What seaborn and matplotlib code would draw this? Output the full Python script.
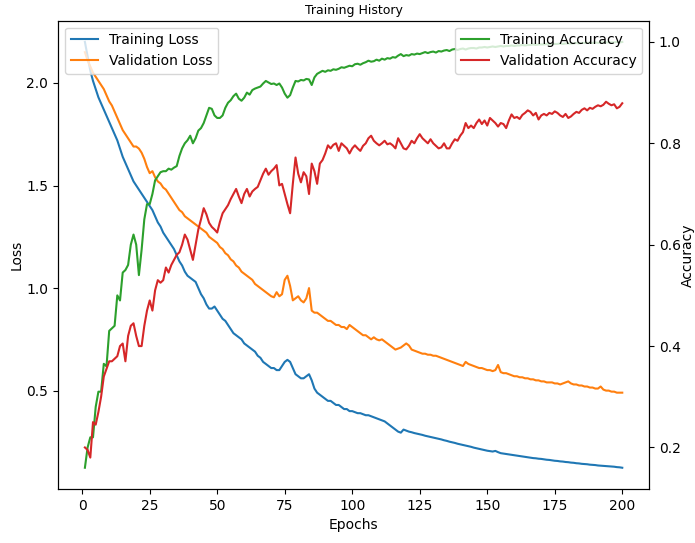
import numpy as np
import seaborn as sns
import matplotlib.pyplot as plt

# Training history values (one value per epoch)
epochs = np.arange(1, 201)

train_loss = [
    2.20, 2.13, 2.06, 2.01, 1.97, 1.93, 1.90, 1.87, 1.84, 1.81,
    1.78, 1.75, 1.72, 1.68, 1.64, 1.61, 1.58, 1.55, 1.52, 1.50,
    1.48, 1.46, 1.44, 1.42, 1.40, 1.38, 1.35, 1.32, 1.30, 1.27,
    1.25, 1.23, 1.21, 1.19, 1.16, 1.13, 1.11, 1.08, 1.06, 1.05,
    1.04, 1.03, 1.00, 0.97, 0.95, 0.92, 0.90, 0.90, 0.91, 0.89,
    0.87, 0.85, 0.84, 0.82, 0.80, 0.78, 0.77, 0.76, 0.75, 0.73,
    0.72, 0.71, 0.70, 0.69, 0.67, 0.66, 0.64, 0.63, 0.62, 0.61,
    0.61, 0.60, 0.60, 0.62, 0.64, 0.65, 0.64, 0.61, 0.58, 0.57,
    0.56, 0.56, 0.57, 0.58, 0.55, 0.51, 0.49, 0.48, 0.47, 0.46,
    0.45, 0.45, 0.44, 0.43, 0.43, 0.42, 0.41, 0.41, 0.40, 0.40,
    0.395, 0.39, 0.39, 0.385, 0.38, 0.38, 0.375, 0.37, 0.365, 0.36,
    0.355, 0.35, 0.34, 0.33, 0.32, 0.31, 0.30, 0.295, 0.31, 0.305,
    0.30, 0.297, 0.293, 0.29, 0.287, 0.284, 0.28, 0.277, 0.274, 0.271,
    0.268, 0.265, 0.262, 0.258, 0.255, 0.251, 0.248, 0.245, 0.241, 0.238,
    0.235, 0.232, 0.229, 0.226, 0.222, 0.219, 0.216, 0.213, 0.21, 0.207,
    0.205, 0.203, 0.206, 0.20, 0.195, 0.193, 0.191, 0.189, 0.187, 0.185,
    0.183, 0.181, 0.179, 0.177, 0.175, 0.173, 0.171, 0.17, 0.168, 0.167,
    0.165, 0.163, 0.162, 0.16, 0.158, 0.157, 0.155, 0.154, 0.152, 0.151,
    0.149, 0.148, 0.146, 0.145, 0.143, 0.142, 0.141, 0.139, 0.138, 0.137,
    0.135, 0.134, 0.133, 0.132, 0.131, 0.13, 0.129, 0.127, 0.126, 0.124,
]

val_loss = [
    2.15, 2.11, 2.08, 2.05, 2.03, 2.01, 1.99, 1.97, 1.94, 1.91,
    1.89, 1.86, 1.83, 1.80, 1.77, 1.75, 1.73, 1.71, 1.69, 1.69,
    1.68, 1.66, 1.63, 1.59, 1.56, 1.57, 1.54, 1.52, 1.51, 1.49,
    1.48, 1.46, 1.44, 1.42, 1.40, 1.38, 1.37, 1.35, 1.34, 1.33,
    1.32, 1.31, 1.30, 1.29, 1.28, 1.27, 1.25, 1.24, 1.23, 1.22,
    1.20, 1.19, 1.17, 1.16, 1.14, 1.13, 1.11, 1.10, 1.08, 1.07,
    1.06, 1.05, 1.04, 1.02, 1.01, 1.00, 0.99, 0.98, 0.97, 0.96,
    0.955, 0.98, 0.96, 0.97, 1.04, 1.06, 1.01, 0.94, 0.95, 0.96,
    0.94, 0.93, 0.95, 1.00, 0.89, 0.88, 0.88, 0.87, 0.86, 0.85,
    0.84, 0.84, 0.83, 0.82, 0.82, 0.81, 0.81, 0.80, 0.82, 0.81,
    0.80, 0.79, 0.78, 0.77, 0.77, 0.76, 0.75, 0.76, 0.75, 0.745,
    0.75, 0.74, 0.73, 0.72, 0.71, 0.70, 0.705, 0.71, 0.72, 0.73,
    0.72, 0.70, 0.695, 0.69, 0.685, 0.68, 0.68, 0.675, 0.675, 0.67,
    0.67, 0.665, 0.66, 0.655, 0.65, 0.645, 0.64, 0.635, 0.63, 0.625,
    0.62, 0.64, 0.63, 0.625, 0.62, 0.615, 0.61, 0.61, 0.605, 0.60,
    0.60, 0.595, 0.60, 0.625, 0.59, 0.585, 0.585, 0.58, 0.575, 0.57,
    0.57, 0.565, 0.565, 0.56, 0.56, 0.555, 0.555, 0.55, 0.55, 0.545,
    0.545, 0.54, 0.54, 0.54, 0.535, 0.535, 0.53, 0.535, 0.54, 0.545,
    0.535, 0.53, 0.53, 0.525, 0.525, 0.52, 0.52, 0.515, 0.515, 0.51,
    0.51, 0.52, 0.505, 0.50, 0.50, 0.495, 0.495, 0.49, 0.49, 0.49,
]

train_acc = [
    0.16, 0.20, 0.22, 0.22, 0.28, 0.31, 0.31, 0.365, 0.36, 0.43,
    0.435, 0.44, 0.50, 0.49, 0.545, 0.55, 0.56, 0.60, 0.62, 0.60,
    0.54, 0.59, 0.65, 0.68, 0.68, 0.70, 0.727, 0.735, 0.743, 0.745,
    0.745, 0.75, 0.748, 0.752, 0.755, 0.775, 0.79, 0.80, 0.806, 0.815,
    0.80, 0.81, 0.825, 0.83, 0.84, 0.855, 0.87, 0.868, 0.855, 0.85,
    0.85, 0.855, 0.87, 0.88, 0.885, 0.893, 0.898, 0.888, 0.884, 0.89,
    0.90, 0.896, 0.905, 0.908, 0.91, 0.912, 0.918, 0.923, 0.92, 0.917,
    0.918, 0.915, 0.918, 0.91, 0.898, 0.89, 0.895, 0.91, 0.923, 0.922,
    0.925, 0.924, 0.927, 0.926, 0.915, 0.93, 0.937, 0.94, 0.943, 0.941,
    0.944, 0.943, 0.946, 0.945, 0.947, 0.95, 0.949, 0.951, 0.953, 0.952,
    0.956, 0.957, 0.955, 0.958, 0.96, 0.963, 0.961, 0.962, 0.965, 0.963,
    0.967, 0.965, 0.968, 0.967, 0.97, 0.969, 0.973, 0.976, 0.972, 0.974,
    0.973, 0.976, 0.975, 0.977, 0.976, 0.978, 0.98, 0.978, 0.98, 0.981,
    0.979, 0.982, 0.981, 0.983, 0.984, 0.982, 0.985, 0.986, 0.984, 0.986,
    0.987, 0.985, 0.987, 0.988, 0.988, 0.987, 0.989, 0.989, 0.99, 0.989,
    0.99, 0.991, 0.99, 0.991, 0.992, 0.991, 0.992, 0.992, 0.993, 0.992,
    0.993, 0.993, 0.994, 0.993, 0.994, 0.994, 0.995, 0.994, 0.995, 0.995,
    0.995, 0.996, 0.995, 0.996, 0.996, 0.996, 0.997, 0.996, 0.997, 0.997,
    0.997, 0.997, 0.998, 0.997, 0.998, 0.998, 0.998, 0.998, 0.998, 0.999,
    0.998, 0.999, 0.999, 0.999, 0.999, 0.999, 0.999, 1.0, 0.999, 1.0,
]

val_acc = [
    0.20, 0.195, 0.18, 0.25, 0.245, 0.27, 0.30, 0.34, 0.355, 0.37,
    0.37, 0.375, 0.38, 0.40, 0.405, 0.37, 0.42, 0.44, 0.445, 0.42,
    0.40, 0.40, 0.44, 0.47, 0.49, 0.47, 0.51, 0.53, 0.525, 0.53,
    0.555, 0.545, 0.56, 0.57, 0.58, 0.585, 0.60, 0.62, 0.61, 0.59,
    0.57, 0.60, 0.63, 0.65, 0.672, 0.66, 0.643, 0.635, 0.63, 0.624,
    0.645, 0.662, 0.67, 0.678, 0.69, 0.70, 0.71, 0.695, 0.682, 0.70,
    0.71, 0.695, 0.705, 0.71, 0.714, 0.727, 0.74, 0.75, 0.738, 0.745,
    0.75, 0.757, 0.717, 0.72, 0.70, 0.68, 0.662, 0.72, 0.772, 0.74,
    0.723, 0.743, 0.735, 0.70, 0.76, 0.745, 0.72, 0.76, 0.767, 0.78,
    0.796, 0.79, 0.797, 0.80, 0.785, 0.80, 0.795, 0.79, 0.78, 0.79,
    0.796, 0.79, 0.785, 0.795, 0.80, 0.81, 0.815, 0.805, 0.80, 0.796,
    0.80, 0.805, 0.798, 0.80, 0.796, 0.79, 0.81, 0.80, 0.79, 0.788,
    0.795, 0.805, 0.80, 0.81, 0.818, 0.81, 0.805, 0.80, 0.808, 0.80,
    0.795, 0.79, 0.792, 0.80, 0.79, 0.79, 0.80, 0.808, 0.805, 0.815,
    0.822, 0.84, 0.83, 0.835, 0.83, 0.84, 0.847, 0.838, 0.845, 0.835,
    0.85, 0.845, 0.84, 0.833, 0.84, 0.838, 0.83, 0.845, 0.857, 0.85,
    0.852, 0.848, 0.856, 0.86, 0.865, 0.862, 0.855, 0.86, 0.847, 0.855,
    0.858, 0.855, 0.86, 0.858, 0.863, 0.86, 0.855, 0.852, 0.858, 0.85,
    0.853, 0.858, 0.862, 0.86, 0.866, 0.869, 0.865, 0.87, 0.868, 0.872,
    0.875, 0.873, 0.876, 0.882, 0.878, 0.875, 0.877, 0.869, 0.872, 0.879,
]

plt.rcParams['font.size'] = 10

fig, ax1 = plt.subplots(figsize=(6.95, 5.43), dpi=100)
fig.subplots_adjust(left=0.0835, right=0.934, bottom=0.0994, top=0.962)

# Loss on the left axis
sns.lineplot(x=epochs, y=train_loss, ax=ax1, color='tab:blue', label='Training Loss')
sns.lineplot(x=epochs, y=val_loss, ax=ax1, color='tab:orange', label='Validation Loss')
ax1.set_xlabel('Epochs')
ax1.set_ylabel('Loss', labelpad=2)
ax1.legend(loc='upper left')

# Accuracy on the right axis
ax2 = ax1.twinx()
sns.lineplot(x=epochs, y=train_acc, ax=ax2, color='tab:green', label='Training Accuracy')
sns.lineplot(x=epochs, y=val_acc, ax=ax2, color='tab:red', label='Validation Accuracy')
ax2.set_ylabel('Accuracy', labelpad=0)
ax2.legend(loc='upper right')

ax1.set_title('Training History', fontsize=9, pad=5)

fig.savefig('out.png', dpi=100)
